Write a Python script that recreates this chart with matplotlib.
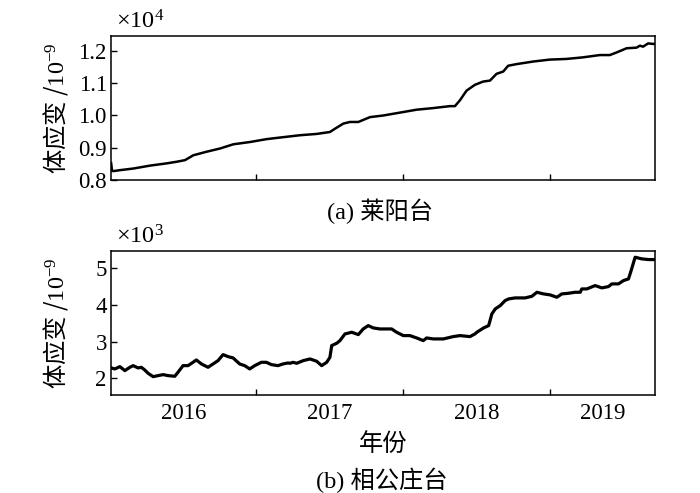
import matplotlib
matplotlib.use("Agg")
import matplotlib.pyplot as plt
from matplotlib.ticker import FixedLocator, FormatStrFormatter, NullFormatter
import numpy as np

plt.rcParams['font.family'] = ['Liberation Serif', 'Noto Sans CJK SC', 'DejaVu Serif']
plt.rcParams['mathtext.fontset'] = 'custom'
plt.rcParams['mathtext.rm'] = 'Liberation Serif'
plt.rcParams['mathtext.it'] = 'Liberation Serif:italic'
plt.rcParams['mathtext.default'] = 'rm'

# ---- data: 莱阳台 (volume strain, 1e-9) ----
laiyang_t = [2016.016, 2016.022, 2016.031, 2016.077, 2016.167, 2016.280, 2016.394, 2016.462,
             2016.518, 2016.574, 2016.665, 2016.756, 2016.846, 2016.959, 2017.073, 2017.185,
             2017.299, 2017.412, 2017.502, 2017.536, 2017.593, 2017.638, 2017.695, 2017.774,
             2017.864, 2017.978, 2018.091, 2018.204, 2018.317, 2018.351, 2018.385, 2018.430,
             2018.487, 2018.543, 2018.589, 2018.634, 2018.679, 2018.713, 2018.770, 2018.883,
             2018.996, 2019.109, 2019.222, 2019.335, 2019.403, 2019.449, 2019.517, 2019.585,
             2019.607, 2019.629, 2019.663, 2019.709]
laiyang_v = [8510, 8280, 8270, 8300, 8350, 8440, 8510, 8560,
             8610, 8760, 8870, 8970, 9100, 9170, 9260, 9320,
             9380, 9420, 9480, 9580, 9740, 9790, 9790, 9940,
             9990, 10080, 10170, 10220, 10280, 10280, 10460, 10760,
             10940, 11040, 11070, 11280, 11350, 11530, 11580, 11660,
             11720, 11740, 11790, 11860, 11860, 11940, 12070, 12090,
             12150, 12120, 12220, 12200]

# ---- data: 相公庄台 (volume strain, 1e-9) ----
xgz_t = [2016.018, 2016.041, 2016.075, 2016.109, 2016.143, 2016.165, 2016.199, 2016.221,
         2016.244, 2016.267, 2016.301, 2016.335, 2016.369, 2016.403, 2016.448, 2016.470,
         2016.504, 2016.538, 2016.572, 2016.595, 2016.629, 2016.674, 2016.708, 2016.742,
         2016.776, 2016.810, 2016.844, 2016.889, 2016.923, 2016.957, 2016.991, 2017.036,
         2017.070, 2017.104, 2017.149, 2017.183, 2017.217, 2017.231, 2017.251, 2017.276,
         2017.321, 2017.367, 2017.412, 2017.446, 2017.480, 2017.502, 2017.514, 2017.548,
         2017.570, 2017.604, 2017.650, 2017.695, 2017.728, 2017.762, 2017.796, 2017.842,
         2017.887, 2017.921, 2017.955, 2018.000, 2018.045, 2018.091, 2018.136, 2018.159,
         2018.204, 2018.272, 2018.339, 2018.385, 2018.453, 2018.487, 2018.500, 2018.546,
         2018.580, 2018.602, 2018.625, 2018.659, 2018.692, 2018.716, 2018.760, 2018.828,
         2018.874, 2018.908, 2018.953, 2018.998, 2019.043, 2019.077, 2019.123, 2019.168,
         2019.202, 2019.213, 2019.247, 2019.303, 2019.349, 2019.394, 2019.417, 2019.462,
         2019.496, 2019.530, 2019.548, 2019.575, 2019.620, 2019.666, 2019.709]
xgz_v = [2282, 2255, 2318, 2209, 2300, 2345, 2282, 2300,
         2227, 2136, 2045, 2073, 2100, 2073, 2055, 2164,
         2345, 2345, 2436, 2500, 2391, 2300, 2391, 2482,
         2645, 2591, 2555, 2391, 2345, 2255, 2345, 2436,
         2436, 2373, 2345, 2391, 2418, 2409, 2436, 2409,
         2482, 2527, 2464, 2345, 2436, 2573, 2891, 2955,
         3027, 3209, 3255, 3191, 3345, 3436, 3373, 3345,
         3345, 3345, 3255, 3164, 3164, 3100, 3027, 3100,
         3073, 3073, 3136, 3164, 3136, 3209, 3255, 3373,
         3436, 3755, 3891, 3982, 4118, 4164, 4191, 4191,
         4236, 4345, 4300, 4273, 4209, 4300, 4318, 4345,
         4345, 4436, 4436, 4527, 4464, 4500, 4573, 4573,
         4664, 4709, 4936, 5300, 5255, 5236, 5236]

year_ticks = [2017, 2018, 2019]
year_labels = ['2016', '2017', '2018', '2019']
top_yticks = [0.8, 0.9, 1.0, 1.1, 1.2]
bot_yticks = [2, 3, 4, 5]
xlim = (2016.015, 2019.71)

fig = plt.figure(figsize=(7.0, 4.93), dpi=100)
ax1 = fig.add_axes([0.1586, 0.6349, 0.7771, 0.2921])
ax2 = fig.add_axes([0.1586, 0.1988, 0.7771, 0.2921])

FS = 16.5
for ax in (ax1, ax2):
    ax.set_xlim(*xlim)
    ax.xaxis.set_major_locator(FixedLocator(year_ticks))
    ax.tick_params(axis='both', which='major', direction='in', length=4, width=1.0,
                   labelsize=FS, top=False, right=False, pad=3)
    for s in ax.spines.values():
        s.set_linewidth(1.1)
    ax.xaxis.set_major_formatter(NullFormatter())

ax1.plot(laiyang_t, np.array(laiyang_v) / 1e4, color='black', lw=1.8)
ax1.set_ylim(0.7995, 1.245)
ax1.yaxis.set_major_locator(FixedLocator(top_yticks))
ax1.yaxis.set_major_formatter(FormatStrFormatter('%.1f'))

ax2.plot(xgz_t, np.array(xgz_v) / 1e3, color='black', lw=2.3)
ax2.set_ylim(1.545, 5.47)
ax2.yaxis.set_major_locator(FixedLocator(bot_yticks))
ax2.yaxis.set_major_formatter(FormatStrFormatter('%d'))

# year labels centred in the visible part of each year
edges = [xlim[0]] + year_ticks + [xlim[1]]
mids = [(edges[i] + edges[i + 1]) / 2 for i in range(len(edges) - 1)]
ax2.xaxis.set_minor_locator(FixedLocator(mids))
ax2.set_xticklabels(year_labels, minor=True)
ax2.tick_params(axis='x', which='minor', length=0, labelsize=FS, pad=6)

ylab = '体应变 /$10^{-9}$'
for ax in (ax1, ax2):
    ax.set_ylabel(ylab, fontsize=17.5, family='Noto Sans CJK SC')
    ax.yaxis.set_label_coords(-0.076, 0.5)

ax1.text(0.01, 1.015, r'$\times10^{4}$', transform=ax1.transAxes, fontsize=17.5,
         ha='left', va='bottom')
ax2.text(0.01, 1.015, r'$\times10^{3}$', transform=ax2.transAxes, fontsize=17.5,
         ha='left', va='bottom')

ax2.set_xlabel('年份', fontsize=17.5, labelpad=6)

fig.text(0.543, 1 - 211 / 493, '(a) 莱阳台', fontsize=17.5, ha='center', va='center')
fig.text(0.546, 1 - 480 / 493, '(b) 相公庄台', fontsize=17.5, ha='center', va='center')

fig.savefig('out.png', dpi=100)
